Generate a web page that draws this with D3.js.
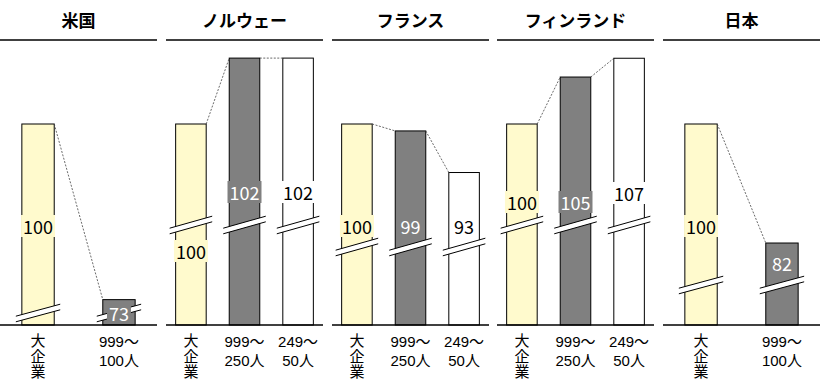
<!DOCTYPE html>
<html><head><meta charset="utf-8">
<script src="https://cdn.jsdelivr.net/npm/d3@7/dist/d3.min.js"></script>
<style>body{margin:0;background:#fff}svg{display:block}</style>
</head><body><svg id="c" width="829" height="391"></svg>
<script>
// ---- data ----
const countries = ["米国","ノルウェー","フランス","フィンランド","日本"];
const categories = [
  ["大企業","999～|100人"],
  ["大企業","999～|250人","249～|50人"],
  ["大企業","999～|250人","249～|50人"],
  ["大企業","999～|250人","249～|50人"],
  ["大企業","999～|100人"]
];
const values = [
  [100,73],
  [100,102,102],
  [100,99,93],
  [100,105,107],
  [100,82]
];
// broken-axis lower bound per panel (value shown at baseline)
const axisMin = [69.1, 93.9, 71.0, 78.6, 69.6];

// ---- layout ----
const fills = ["#FFFACD","#808080","#FFFFFF"];
const textFills = ["#000","#fff","#000"];
const panelX = [0,166,332,497,663];
const panelW = 157;
const baseY = 325, refY = 124;
const breakY = [313, 225, 247, 225, 285];
const labelY = [[226,313],[251,192,192],[226,226,226],[202,202,193],[226,263]];

const svg = d3.select("#c");
const font = "'Noto Sans CJK JP','Noto Sans',sans-serif";
const catFont = "'Liberation Sans','Noto Sans CJK JP',sans-serif";

countries.forEach((name,i)=>{
  const g = svg.append("g").attr("transform",`translate(${panelX[i]},0)`);
  const n = values[i].length;
  const x = d3.scaleBand().domain(d3.range(n)).range([0,panelW])
    .paddingInner(n===3?0.43:0.6).paddingOuter(n===3?0.18:0.27);
  const bw = x.bandwidth();
  const y = d3.scaleLinear().domain([axisMin[i],100]).range([baseY,refY]);

  // title
  g.append("text").attr("x",panelW/2).attr("y",19).attr("text-anchor","middle")
    .attr("dominant-baseline","central").attr("font-family",font).attr("font-weight","bold")
    .attr("font-size",17).text(name);
  g.append("line").attr("x1",0).attr("x2",panelW).attr("y1",40).attr("y2",40)
    .attr("stroke","#000").attr("stroke-width",1.5);

  // bars
  g.selectAll("rect.bar").data(values[i]).join("rect").attr("class","bar")
    .attr("x",(d,j)=>x(j)).attr("width",bw)
    .attr("y",d=>y(d)).attr("height",d=>baseY-y(d))
    .attr("fill",(d,j)=>fills[j]).attr("stroke","#000").attr("stroke-width",1);

  // connectors
  for(let j=0;j<n-1;j++){
    g.append("line").attr("x1",x(j)+bw).attr("y1",y(values[i][j]))
      .attr("x2",x(j+1)).attr("y2",y(values[i][j+1]))
      .attr("stroke","#444").attr("stroke-width",0.8).attr("stroke-dasharray","2,1.5");
  }

  // break marks
  values[i].forEach((d,j)=>{
    const cx = x(j)+bw/2, cy = breakY[i];
    const hw = bw/2+6, dy = 6, gap = 2.8;
    const bg = g.append("g");
    bg.append("path")
      .attr("d",`M${cx-hw},${cy+dy-gap}L${cx+hw},${cy-dy-gap}L${cx+hw},${cy-dy+gap}L${cx-hw},${cy+dy+gap}Z`)
      .attr("fill","#fff");
    [-gap,gap].forEach(o=>{
      bg.append("line").attr("x1",cx-hw).attr("y1",cy+dy+o).attr("x2",cx+hw).attr("y2",cy-dy+o)
        .attr("stroke","#000").attr("stroke-width",1);
    });
  });

  // value labels
  values[i].forEach((d,j)=>{
    const cx = x(j)+bw/2, cy = labelY[i][j];
    const t = g.append("text").attr("x",cx).attr("y",cy).attr("text-anchor","middle")
      .attr("dominant-baseline","central").attr("font-family",font).attr("font-size",18)
      .attr("fill",textFills[j]).text(d);
    const bb = t.node().getBBox();
    g.insert("rect",()=>t.node()).attr("x",bb.x-2).attr("y",cy-11).attr("width",bb.width+4)
      .attr("height",22).attr("fill",fills[j]);
  });

  // baseline
  g.append("line").attr("x1",0).attr("x2",panelW).attr("y1",baseY).attr("y2",baseY)
    .attr("stroke","#000").attr("stroke-width",1.3);

  // category labels
  categories[i].forEach((c,j)=>{
    const cx = x(j)+bw/2;
    if(c.indexOf("|")<0){
      g.append("text").attr("x",cx).attr("y",333)
        .style("writing-mode","vertical-rl").attr("text-anchor","start")
        .attr("font-family",font).attr("font-size",15).attr("letter-spacing",0.5)
        .text(c);
    } else {
      c.split("|").forEach((ln,k)=>{
        g.append("text").attr("x",cx).attr("y",347+k*19).attr("text-anchor","middle")
          .attr("font-family",catFont).attr("font-size",15).text(ln);
      });
    }
  });
});
</script></body></html>
